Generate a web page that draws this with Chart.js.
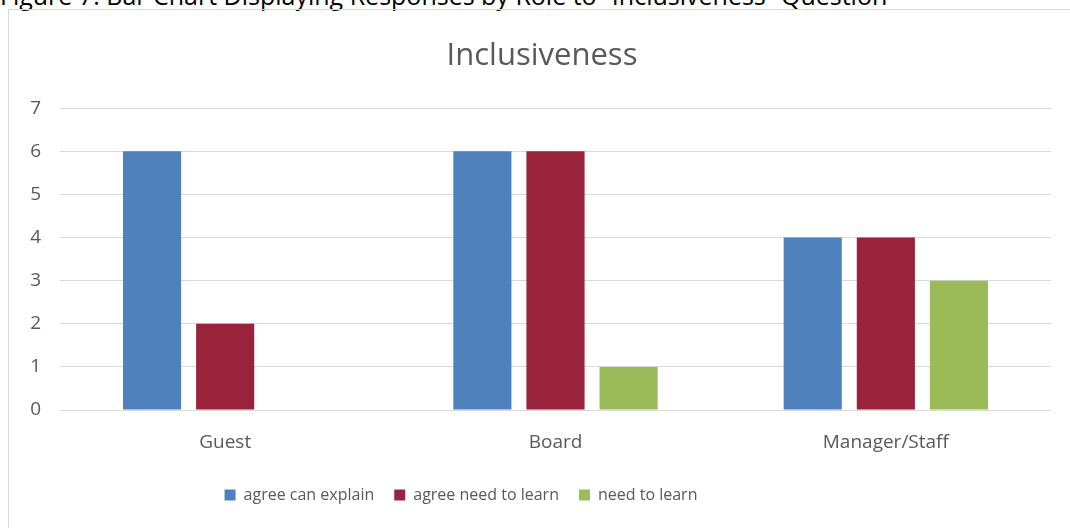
<!DOCTYPE html>
<html>
<head>
<meta charset="utf-8">
<script src="https://cdn.jsdelivr.net/npm/chart.js@4"></script>
<style>
    html, body { margin: 0; padding: 0; background: #fff; overflow: hidden; }
    body { width: 1070px; height: 528px; position: relative; }
    .caption {
        position: absolute; left: 0; top: -17px;
        font-family: "Open Sans", sans-serif; font-size: 25px; line-height: 25px;
        color: #000; white-space: nowrap;
    }
    .frame {
        position: absolute; left: 8px; top: 9px;
        width: 1068px; height: 540px;
        border: 1px solid #d9d9d9; box-sizing: border-box;
    }
    .frame canvas { display: block; }
</style>
</head>
<body>
<div class="caption">Figure 7: Bar Chart Displaying Responses by Role to “Inclusiveness” Question</div>
<div class="frame">
    <canvas id="inclusivenessChart" width="1066" height="538"></canvas>
</div>
<script>
// Responses by role
const roles = ['Guest', 'Board', 'Manager/Staff'];
const canExplain = [6, 6, 4];
const needToLearnAgree = [2, 6, 4];
const needToLearn = [0, 1, 3];
const yTicks = [0, 1, 2, 3, 4, 5, 6, 7];

const textColor = '#595959';
const gridColor = '#d9d9d9';
const fontFamily = 'Open Sans';

// legend sits left of centre in the frame
const legendShift = {
    id: 'legendShift',
    afterLayout(chart, args, opts) {
        chart.legend.left += opts.offset;
        chart.legend.right += opts.offset;
    }
};

const ctx = document.getElementById('inclusivenessChart').getContext('2d');
const chart = new Chart(ctx, {
    type: 'bar',
    data: {
        labels: roles,
        datasets: [
            { label: 'agree can explain', data: canExplain, backgroundColor: '#4f81bd' },
            { label: 'agree need to learn', data: needToLearnAgree, backgroundColor: '#98233a' },
            { label: 'need to learn', data: needToLearn, backgroundColor: '#9bbb59' }
        ]
    },
    plugins: [legendShift],
    options: {
        responsive: false,
        animation: false,
        devicePixelRatio: 1,
        layout: { padding: { left: 0, right: 0, top: 0, bottom: 35 } },
        datasets: {
            bar: { categoryPercentage: 0.664, barPercentage: 0.795 }
        },
        plugins: {
            title: {
                display: true,
                text: 'Inclusiveness',
                color: textColor,
                font: { family: fontFamily, size: 31, weight: 'normal' },
                padding: { top: 28, bottom: 33 }
            },
            legend: {
                position: 'bottom',
                labels: {
                    color: textColor,
                    font: { family: fontFamily, size: 16 },
                    boxWidth: 11,
                    boxHeight: 11,
                    padding: 20
                }
            },
            legendShift: { offset: -81 },
            tooltip: { enabled: false }
        },
        scales: {
            x: {
                grid: { display: false, drawTicks: false },
                border: { display: false },
                ticks: { color: textColor, font: { family: fontFamily, size: 19 }, padding: 21 },
                afterFit: (scale) => { scale.height = 57; }
            },
            y: {
                min: 0,
                max: 7,
                afterBuildTicks: (scale) => { scale.ticks = yTicks.map(v => ({ value: v })); },
                grid: { color: gridColor, lineWidth: 1, drawTicks: false },
                border: { display: false },
                ticks: { color: textColor, font: { family: fontFamily, size: 19 }, padding: 19 },
                afterFit: (scale) => { scale.width = 51; }
            },
            // empty strip on the right so the title stays centred on the frame
            spacer: {
                type: 'linear',
                position: 'right',
                grid: { display: false, drawTicks: false },
                border: { display: false },
                ticks: { display: false },
                afterFit: (scale) => { scale.width = 24; }
            }
        }
    }
});
</script>
</body>
</html>
